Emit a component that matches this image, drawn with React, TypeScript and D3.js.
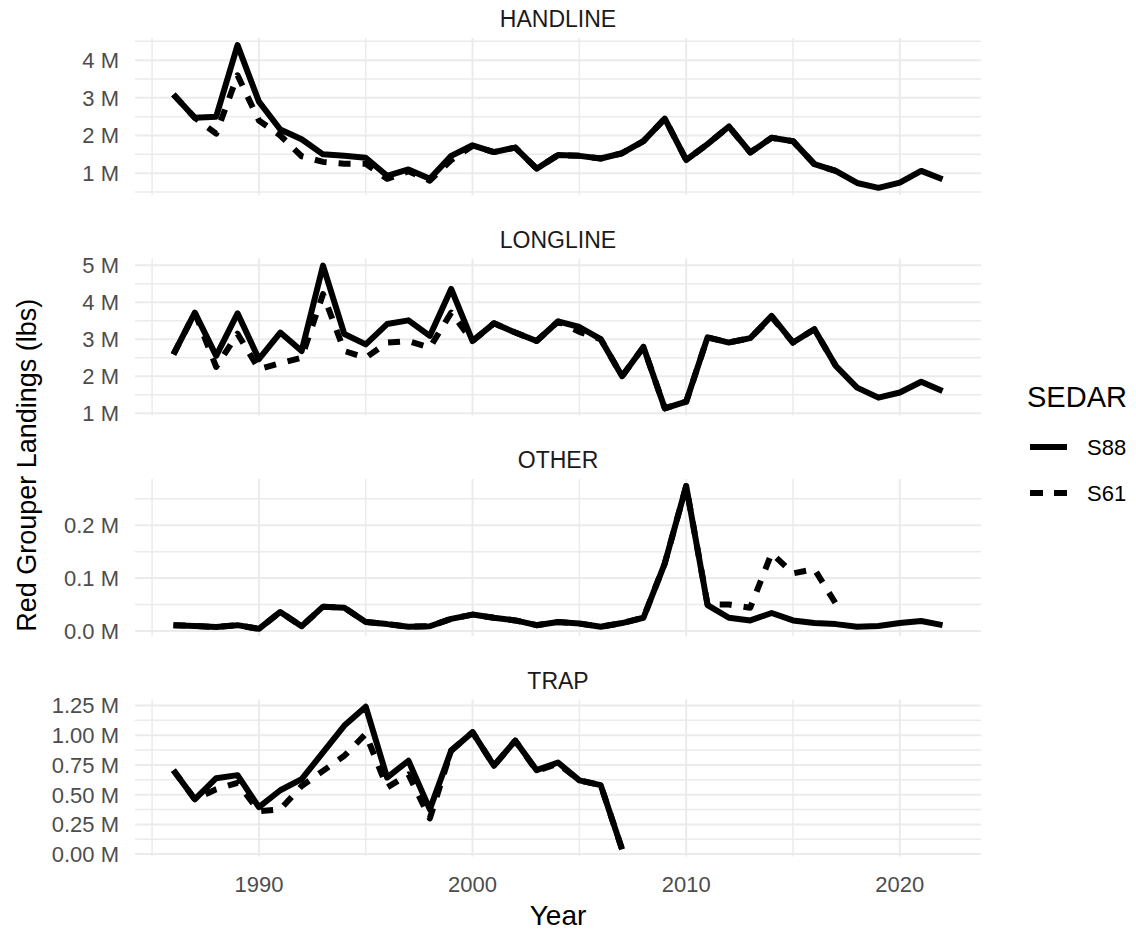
import React from "react";
import * as d3 from "d3";

// years on the x axis
const years = [
  1986, 1987, 1988, 1989, 1990, 1991, 1992, 1993, 1994, 1995, 1996, 1997, 1998,
  1999, 2000, 2001, 2002, 2003, 2004, 2005, 2006, 2007, 2008, 2009, 2010, 2011,
  2012, 2013, 2014, 2015, 2016, 2017, 2018, 2019, 2020, 2021, 2022,
];

// landings in millions of lbs, S88 runs 1986-2022, S61 runs 1986-2017
const handlineS88 = [
  3.09, 2.47, 2.5, 4.4, 2.9, 2.16, 1.9, 1.5, 1.46, 1.41, 0.93, 1.1, 0.85, 1.46,
  1.74, 1.56, 1.68, 1.12, 1.48, 1.46, 1.39, 1.53, 1.85, 2.45, 1.35, 1.77, 2.24,
  1.55, 1.94, 1.85, 1.24, 1.06, 0.74, 0.61, 0.75, 1.06, 0.84,
];
const handlineS61 = [
  3.09, 2.47, 2.05, 3.6, 2.4, 2.0, 1.45, 1.3, 1.25, 1.25, 0.85, 1.05, 0.8, 1.35,
  1.72, 1.56, 1.68, 1.12, 1.48, 1.46, 1.39, 1.53, 1.85, 2.45, 1.35, 1.77, 2.24,
  1.55, 1.94, 1.85, 1.24, 1.06,
];

const longlineS88 = [
  2.59, 3.72, 2.55, 3.7, 2.46, 3.18, 2.68, 4.99, 3.14, 2.86, 3.41, 3.51, 3.09,
  4.36, 2.95, 3.43, 3.18, 2.95, 3.48, 3.33, 3.0, 2.0, 2.79, 1.13, 1.31, 3.05,
  2.91, 3.03, 3.63, 2.91, 3.27, 2.28, 1.69, 1.42, 1.56, 1.85, 1.6,
];
const longlineS61 = [
  2.59, 3.72, 2.25, 3.15, 2.19, 2.35, 2.5, 4.22, 2.68, 2.5, 2.91, 2.95, 2.77,
  3.72, 2.95, 3.43, 3.18, 2.95, 3.48, 3.2, 3.0, 2.0, 2.79, 1.13, 1.31, 3.05,
  2.91, 3.03, 3.6, 2.91, 3.27, 2.28,
];

const otherS88 = [
  0.011, 0.0095, 0.0076, 0.011, 0.004, 0.036, 0.009, 0.046, 0.044, 0.017, 0.013,
  0.008, 0.009, 0.023, 0.031, 0.025, 0.02, 0.011, 0.017, 0.014, 0.008, 0.015,
  0.025, 0.128, 0.274, 0.049, 0.025, 0.02, 0.034, 0.02, 0.015, 0.013, 0.008,
  0.0095, 0.015, 0.019, 0.011,
];
const otherS61 = [
  0.011, 0.0095, 0.0076, 0.011, 0.004, 0.036, 0.009, 0.046, 0.044, 0.017, 0.013,
  0.008, 0.009, 0.023, 0.031, 0.025, 0.02, 0.011, 0.017, 0.014, 0.008, 0.015,
  0.025, 0.128, 0.274, 0.05, 0.05, 0.044, 0.147, 0.109, 0.117, 0.052,
];

// trap series stop in 2007
const trapS88 = [
  0.706, 0.461, 0.638, 0.664, 0.395, 0.537, 0.63, 0.855, 1.081, 1.24, 0.644,
  0.785, 0.376, 0.87, 1.025, 0.743, 0.954, 0.706, 0.77, 0.62, 0.58, 0.04,
];
const trapS61 = [
  0.706, 0.461, 0.545, 0.6, 0.36, 0.376, 0.573, 0.7, 0.827, 1.01, 0.56, 0.67,
  0.3, 0.87, 1.025, 0.743, 0.954, 0.7, 0.76, 0.62, 0.58, 0.04,
];

// tick values and labels
const xTicks = [1990, 2000, 2010, 2020];
const xMinorTicks = [1985, 1995, 2005, 2015];
const handlineTicks = [1, 2, 3, 4];
const handlineLabels = ["1 M", "2 M", "3 M", "4 M"];
const longlineTicks = [1, 2, 3, 4, 5];
const longlineLabels = ["1 M", "2 M", "3 M", "4 M", "5 M"];
const otherTicks = [0, 0.1, 0.2];
const otherLabels = ["0.0 M", "0.1 M", "0.2 M"];
const trapTicks = [0, 0.25, 0.5, 0.75, 1, 1.25];
const trapLabels = ["0.00 M", "0.25 M", "0.50 M", "0.75 M", "1.00 M", "1.25 M"];

const panelNames = ["HANDLINE", "LONGLINE", "OTHER", "TRAP"];
const seriesNames = ["S88", "S61"];

const panels = [
  { name: panelNames[0], s88: handlineS88, s61: handlineS61, ticks: handlineTicks, labels: handlineLabels },
  { name: panelNames[1], s88: longlineS88, s61: longlineS61, ticks: longlineTicks, labels: longlineLabels },
  { name: panelNames[2], s88: otherS88, s61: otherS61, ticks: otherTicks, labels: otherLabels },
  { name: panelNames[3], s88: trapS88, s61: trapS61, ticks: trapTicks, labels: trapLabels },
];

const W = 1136;
const H = 934;
const left = 135;
const right = 981;
const firstTop = 38;
const panelStep = 220.5;
const panelH = 157;
const font = "'Liberation Sans', Arial, sans-serif";
const grid = "#EBEBEB";
const lw = 6;

const x = d3
  .scaleLinear()
  .domain([1986 - 36 * 0.05, 2022 + 36 * 0.05])
  .range([left, right]);

const Panel = ({ p, i }) => {
  const top = firstTop + i * panelStep;
  const all = [...p.s88, ...p.s61];
  const lo = d3.min(all);
  const hi = d3.max(all);
  const pad = (hi - lo) * 0.05;
  const y = d3.scaleLinear().domain([lo - pad, hi + pad]).range([top + panelH, top]);

  const step = p.ticks[1] - p.ticks[0];
  const minor = [p.ticks[0] - step / 2, ...p.ticks.map((t) => t + step / 2)].filter(
    (t) => t >= y.domain()[0] && t <= y.domain()[1]
  );

  const line = d3
    .line()
    .x((d) => x(d[0]))
    .y((d) => y(d[1]));

  const s88 = p.s88.map((v, k) => [years[k], v]);
  const s61 = p.s61.map((v, k) => [years[k], v]);

  return (
    <g>
      <text x={(left + right) / 2} y={top - 11} textAnchor="middle" fontSize={23} fill="#1A1A1A">
        {p.name}
      </text>
      {minor.map((t) => (
        <line key={"hm" + t} x1={left} x2={right} y1={y(t)} y2={y(t)} stroke={grid} strokeWidth={1.5} />
      ))}
      {xMinorTicks.map((t) => (
        <line key={"vm" + t} x1={x(t)} x2={x(t)} y1={top} y2={top + panelH} stroke={grid} strokeWidth={1.5} />
      ))}
      {p.ticks.map((t) => (
        <line key={"h" + t} x1={left} x2={right} y1={y(t)} y2={y(t)} stroke={grid} strokeWidth={2} />
      ))}
      {xTicks.map((t) => (
        <line key={"v" + t} x1={x(t)} x2={x(t)} y1={top} y2={top + panelH} stroke={grid} strokeWidth={2} />
      ))}
      {p.ticks.map((t, k) => (
        <text key={"l" + t} x={119} y={y(t)} dy="0.36em" textAnchor="end" fontSize={22} fill="#4D4D4D">
          {p.labels[k]}
        </text>
      ))}
      <path d={line(s88)} fill="none" stroke="#000" strokeWidth={lw} strokeLinejoin="round" />
      <path d={line(s61)} fill="none" stroke="#000" strokeWidth={lw} strokeLinejoin="round" strokeDasharray="12 12" />
    </g>
  );
};

export default function App() {
  const bottom = firstTop + 3 * panelStep + panelH;
  return (
    <svg
      width={W}
      height={H}
      style={{ position: "absolute", left: 0, top: 0, background: "#fff" }}
      fontFamily={font}
    >
      {panels.map((p, i) => (
        <Panel key={p.name} p={p} i={i} />
      ))}
      {xTicks.map((t) => (
        <text key={t} x={x(t)} y={892} textAnchor="middle" fontSize={22} fill="#4D4D4D">
          {t}
        </text>
      ))}
      <text x={(left + right) / 2} y={925} textAnchor="middle" fontSize={28} fill="#000">
        Year
      </text>
      <text
        transform={`translate(36,${(firstTop + bottom) / 2 + 18}) rotate(-90)`}
        textAnchor="middle"
        fontSize={27}
        fill="#000"
      >
        Red Grouper Landings (lbs)
      </text>
      <g>
        <text x={1027} y={407} fontSize={29} fill="#000">
          SEDAR
        </text>
        {seriesNames.map((s, k) => (
          <g key={s}>
            <line
              x1={1030}
              x2={1067}
              y1={447 + k * 46}
              y2={447 + k * 46}
              stroke="#000"
              strokeWidth={lw}
              strokeDasharray={k === 1 ? "13 11" : undefined}
            />
            <text x={1087} y={455 + k * 46} fontSize={22} fill="#000">
              {s}
            </text>
          </g>
        ))}
      </g>
    </svg>
  );
}
